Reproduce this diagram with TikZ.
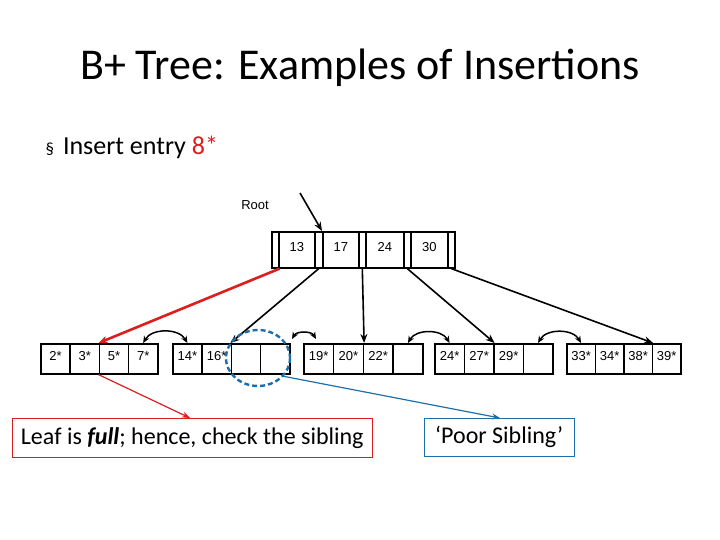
\documentclass[tikz,border=0pt]{standalone}
\usepackage{fontspec}
\setmainfont{Carlito}
\newfontfamily\arialf{Liberation Sans}
\usetikzlibrary{arrows.meta}
\definecolor{myred}{RGB}{220,30,30}
\definecolor{myblue}{RGB}{30,110,170}
\begin{document}
\begin{tikzpicture}[x=1pt,y=-1pt,
  cell/.style={draw,line width=1.6pt,minimum width=#1,minimum height=30,inner sep=0,anchor=north west,font=\arialf\fontsize{13}{15}\selectfont},
  ptr/.style={-{Stealth[length=9pt,width=7pt]},line width=1.6pt},
  sib/.style={{Stealth[length=7pt,width=6pt]}-{Stealth[length=7pt,width=6pt]},line width=1.5pt}]
\useasboundingbox (0,0) rectangle (720,540);
\node[font=\fontsize{44}{48}\selectfont] (title) at (360,68) {B+ Tree: Examples of Insertions};
\node[anchor=west,font=\fontsize{26}{30}\selectfont] (bul) at (42,147) {\fontsize{17}{20}\selectfont§\hspace{9pt}\fontsize{26}{30}\selectfont Insert entry \textcolor{myred}{8*}};
\node[font=\arialf\fontsize{13}{15}\selectfont] (rootl) at (255,205) {Root};
% root node
\foreach \a/\b/\t [count=\i] in {271/278/,278/314/13,314/322/,322/358/17,358/365/,365/403/24,403/410/,410/447/30,447/454/}{
  \pgfmathsetmacro\w{\b-\a}
  \node[cell=\w,minimum height=36] (r\i) at (\a,231) {\raisebox{6pt}{\t}};
}
% leaves
\foreach \L/\xs/\w/\ta/\tb/\tc/\td in {1/40/29.25/2*/3*/5*/7*, 2/172/29.25/14*/16*//, 3/303/29.75/19*/20*/22*/, 4/434/29.5/24*/27*/29*/, 5/566/28.5/33*/34*/38*/39*}{
  \foreach \t [count=\k] in {\ta,\tb,\tc,\td}{
    \node[cell=\w] (l\L-\k) at ({\xs+(\k-1)*\w},343) {\raisebox{6pt}{\t}};
  }
}
\coordinate (rs) at (300,193);
\draw[ptr] (rs) -- (r4.north west);
\draw[ptr,myred,line width=2.6pt] (r1.south east) -- (l1-3.north west);
\draw[ptr] (r3.south) -- (l2-3.north west);
\draw[ptr] (r5.south) -- (l3-2.north east);
\draw[ptr] (r7.south) -- (l4-2.north east);
\draw[ptr] (r9.south) -- (l5-3.north east);
% sibling arrows
\draw[sib] (l1-4.north) to[out=60,in=120] (l2-1.north);
\coordinate (c1) at (292,339);
\coordinate (c2) at (316,339);
\draw[sib] (c1) to[out=60,in=120] (c2);
\draw[sib] (l3-4.north) to[out=60,in=120] (l4-1.north);
\draw[sib] (l4-4.north) to[out=60,in=120] (l5-1.north);
% ellipse
\draw[myblue,line width=2.4pt,dash pattern=on 5pt off 3pt] (258,358) ellipse (32 and 28);
\node[draw=myred,minimum width=360,minimum height=39,inner sep=0,anchor=north west,font=\fontsize{24}{28}\selectfont] (b1) at (12,418) {Leaf is \textbf{\textit{full}}; hence, check the sibling};
\node[draw=myblue,minimum width=150,minimum height=38,inner sep=0,anchor=north west,font=\fontsize{24}{28}\selectfont] (b2) at (424,418) {‘Poor Sibling’};
\draw[-{Stealth[length=8pt]},myred,line width=1.2pt] (l1-3.south west) -- (b1.north -| 190,0);
\coordinate (es) at (282,376);
\draw[-{Stealth[length=8pt]},myblue,line width=1.2pt] (es) -- (b2.north -| 500,0);
\end{tikzpicture}
\end{document}
